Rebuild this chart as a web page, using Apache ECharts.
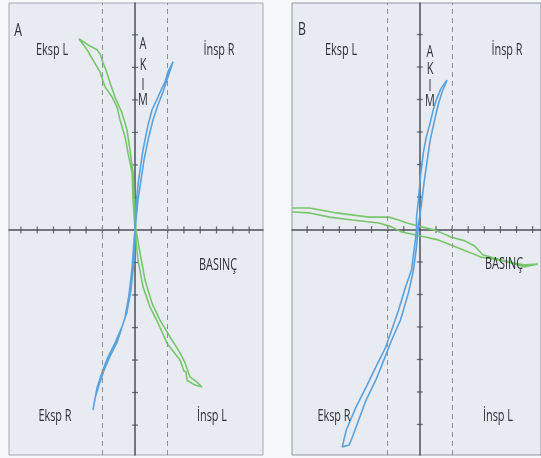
<!DOCTYPE html>
<html><head><meta charset="utf-8">
<style>html,body{margin:0;padding:0;background:#f7f8fa;}#c{width:541px;height:458px;}</style>
<script src="https://cdn.jsdelivr.net/npm/echarts@6/dist/echarts.min.js"></script>
</head><body><div id="c"></div>
<script>
// Panel A – green loop (Eksp L -> İnsp L), [basınç, akım]
const greenA = [
 [-3.44,5.88],[-2.88,5.69],[-2.33,5.54],[-2.15,5.42],[-1.96,5.14],[-1.72,4.83],[-1.53,4.52],[-1.23,4.09],
 [-0.80,3.60],[-0.49,3.08],[-0.31,2.46],[-0.12,1.75],[-0.06,1.02],[0,0.40],[0.06,0],[0.31,-0.71],
 [0.61,-1.54],[1.04,-2.25],[1.53,-2.77],[2.15,-3.29],[2.76,-3.78],[3.07,-4.09],[3.37,-4.52],[3.80,-4.68],
 [4.11,-4.83],[3.68,-4.77],[3.19,-4.62],[3.13,-4.37],[3.0,-4.34],[2.76,-4.0],[1.96,-3.48],[1.41,-2.86],
 [0.92,-2.37],[0.49,-1.75],[0.18,-0.92],[0,0],[-0.12,0.92],[-0.18,1.75],[-0.43,2.37],[-0.61,2.86],
 [-0.92,3.38],[-1.10,3.78],[-1.41,4.09],[-1.84,4.40],[-2.15,4.86],[-2.58,5.23],[-2.94,5.54],[-3.44,5.88]
];
// Panel A – blue loop (İnsp R -> Eksp R)
const blueA = [
 [2.33,5.17],[2.02,4.86],[1.84,4.55],[1.66,4.37],[1.41,4.09],[1.04,3.69],[0.80,3.23],[0.49,2.46],
 [0.31,1.85],[0.18,1.38],[0.06,0.77],[0,0],[-0.06,-0.92],[-0.25,-1.85],[-0.49,-2.52],[-0.80,-2.98],
 [-1.23,-3.48],[-1.66,-3.91],[-2.02,-4.37],[-2.33,-4.86],[-2.58,-5.54],[-2.45,-5.17],[-2.21,-4.77],
 [-1.90,-4.31],[-1.53,-3.88],[-1.10,-3.45],[-0.86,-3.08],[-0.61,-2.68],[-0.37,-2.0],[-0.18,-1.17],
 [-0.06,-0.31],[0.06,0.31],[0.18,0.92],[0.37,1.54],[0.55,2.15],[0.80,2.77],[1.10,3.38],[1.41,3.85],
 [1.72,4.25],[1.96,4.62],[2.21,4.98],[2.33,5.17]
];
// Panel B – green loop (nearly flat)
const greenB = [
 [-7.94,0.66],[-6.84,0.66],[-5.18,0.51],[-3.16,0.38],[-1.93,0.38],[-1.32,0.29],[-0.80,0.20],[0.09,0.08],
 [0.95,-0.02],[1.93,-0.23],[2.79,-0.35],[3.40,-0.51],[3.90,-0.78],[4.82,-0.91],[5.86,-1.03],[6.47,-1.09],
 [7.33,-1.06],[6.47,-1.15],[5.43,-1.0],[4.20,-0.88],[3.77,-0.85],[3.16,-0.72],[2.55,-0.60],[1.93,-0.48],
 [1.13,-0.32],[0.34,-0.23],[-0.52,-0.14],[-1.13,-0.08],[-1.75,0.08],[-2.55,0.20],[-4.20,0.29],
 [-5.61,0.38],[-6.84,0.51],[-7.94,0.54]
];
// Panel B – blue loop
const blueB = [
 [1.69,4.60],[1.32,4.35],[1.01,3.98],[0.83,3.68],[0.64,3.28],[0.40,2.85],[0.21,2.35],[0.03,1.62],
 [-0.09,0.91],[-0.21,0.38],[-0.21,0],[-0.28,-0.32],[-0.52,-1.25],[-0.89,-1.77],[-1.32,-2.48],[-1.75,-3.09],
 [-2.12,-3.62],[-2.73,-4.23],[-3.34,-4.85],[-3.96,-5.46],[-4.57,-6.17],[-4.82,-6.69],[-4.39,-6.63],
 [-4.26,-6.48],[-3.96,-6.08],[-3.34,-5.25],[-2.73,-4.63],[-2.24,-4.02],[-1.75,-3.40],[-1.20,-2.78],
 [-0.71,-1.95],[-0.40,-1.25],[-0.21,-0.54],[-0.09,0.14],[0.09,0.75],[0.28,1.52],[0.46,2.14],[0.64,2.75],
 [0.89,3.31],[1.13,3.83],[1.38,4.23],[1.69,4.60]
];
// Tick positions
const xTicks = [-7,-6,-5,-4,-3,-2,-1,1,2,3,4,5,6,7];
const yTicks = [-6,-5,-4,-3,-2,-1,1,2,3,4,5,6];
const dashedX = [-2,2];
const panelTitles = ['A','B'];
const quadrantLabels = ['Eksp L','İnsp R','Eksp R','İnsp L'];
const xLabel = 'BASINÇ';
const yLabel = ['A','K','I','M'];

const GREEN = '#78c66c', BLUE = '#5aa2dd', AX = '#4b5058', TXT = '#2c2f34';
const FONT = '"Open Sans","Noto Sans",sans-serif';

const grids = [
 {left:9, top:3, width:254, height:452, show:true, backgroundColor:'#e8ecf2', borderColor:'#a3a8b0', borderWidth:1},
 {left:292, top:3, width:252, height:452, show:true, backgroundColor:'#e8ecf2', borderColor:'#8f959d', borderWidth:1}
];
const ranges = [
 {x:[-7.73,7.85], y:[-6.92,6.98]},
 {x:[-7.94,7.52], y:[-6.94,6.97]}
];
const axLine = {show:true, onZero:true, lineStyle:{color:AX, width:1.5}};
const xAxes = ranges.map((r,i)=>({type:'value', gridIndex:i, min:r.x[0], max:r.x[1], axisLine:axLine, axisTick:{show:false}, axisLabel:{show:false}, splitLine:{show:false}}));
const yAxes = ranges.map((r,i)=>({type:'value', gridIndex:i, min:r.y[0], max:r.y[1], axisLine:axLine, axisTick:{show:false}, axisLabel:{show:false}, splitLine:{show:false}}));

const series = [];
[[greenA,blueA],[greenB,blueB]].forEach((pair,i)=>{
  series.push({type:'scatter', xAxisIndex:i, yAxisIndex:i, symbol:'rect', symbolSize:[1.3,7], itemStyle:{color:AX}, silent:true,
    data:xTicks.map(v=>[v,0]),
    markLine:{silent:true, symbol:'none', label:{show:false}, lineStyle:{color:'#8a9098', type:[5,4], width:1},
      data:dashedX.map(v=>({xAxis:v}))}});
  series.push({type:'scatter', xAxisIndex:i, yAxisIndex:i, symbol:'rect', symbolSize:[6,1.3], itemStyle:{color:AX}, silent:true,
    data:yTicks.map(v=>[0,v])});
  series.push({type:'line', xAxisIndex:i, yAxisIndex:i, data:pair[0], showSymbol:false, smooth:false, clip:true,
    lineStyle:{color:GREEN, width:1.6}, z:3});
  series.push({type:'line', xAxisIndex:i, yAxisIndex:i, data:pair[1], showSymbol:false, smooth:false, clip:true,
    lineStyle:{color:BLUE, width:1.6}, z:4});
});

function txt(x,y,s,size){return {type:'text', x:x, y:y, z:10, scaleX:0.68, style:{text:s, fill:TXT, font:(size||16)+'px '+FONT, textAlign:'center', textVerticalAlign:'middle'}};}
const graphics = [
 txt(18,31,panelTitles[0],18), txt(302,30,panelTitles[1],18),
 txt(52,50,quadrantLabels[0]), txt(219,50,quadrantLabels[1]), txt(55,416,quadrantLabels[2]), txt(212,416,quadrantLabels[3]),
 txt(341,50,quadrantLabels[0]), txt(507,50,quadrantLabels[1]), txt(334,416,quadrantLabels[2]), txt(498,416,quadrantLabels[3]),
 txt(218,265,xLabel), txt(504,264,xLabel),
 txt(143,44,yLabel[0]), txt(143,65,yLabel[1]), txt(143,85,yLabel[2]), txt(143,100,yLabel[3]),
 txt(430,52,yLabel[0]), txt(430,69,yLabel[1]), txt(430,86,yLabel[2]), txt(430,101,yLabel[3])
];

const chart = echarts.init(document.getElementById('c'), null, {renderer:'canvas'});
chart.setOption({animation:false, backgroundColor:'#f7f8fa', grid:grids, xAxis:xAxes, yAxis:yAxes, series:series, graphic:graphics});
</script></body></html>
